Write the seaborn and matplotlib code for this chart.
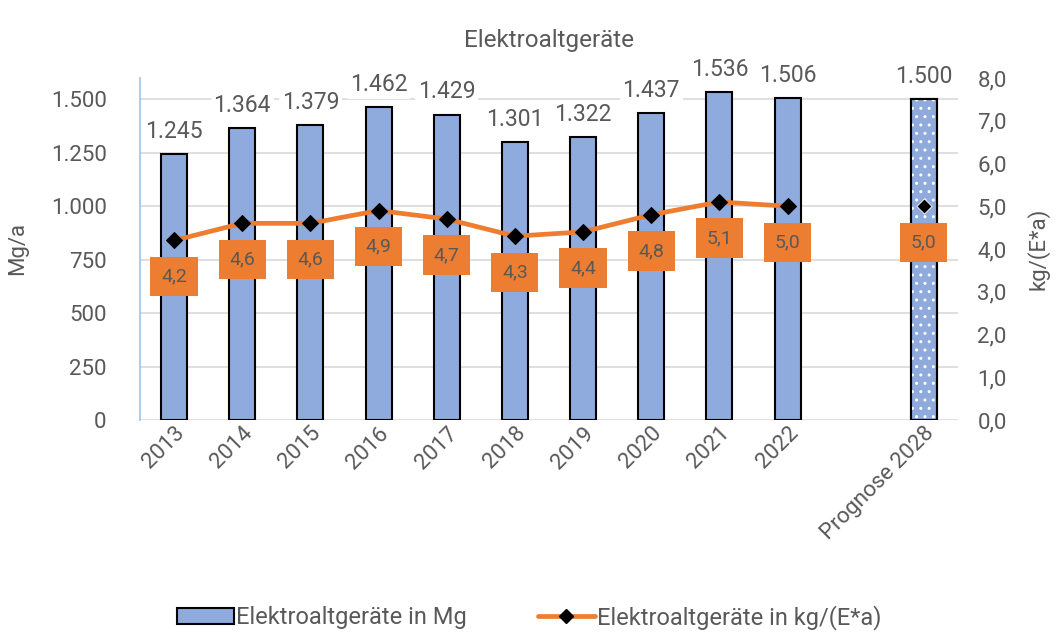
import numpy as np
import pandas as pd
import matplotlib.pyplot as plt
import seaborn as sns
from matplotlib.ticker import FuncFormatter
from matplotlib.patches import Rectangle
from matplotlib.lines import Line2D
from matplotlib.patches import Patch

# data
categories = ['2013', '2014', '2015', '2016', '2017', '2018', '2019', '2020', '2021', '2022', ' ', 'Prognose 2028']
mass_mg = [1245, 1364, 1379, 1462, 1429, 1301, 1322, 1437, 1536, 1506, np.nan, 1500]
per_capita = [4.2, 4.6, 4.6, 4.9, 4.7, 4.3, 4.4, 4.8, 5.1, 5.0, np.nan, 5.0]

sns.set_style('white')
plt.rcParams['font.family'] = ['Roboto', 'DejaVu Sans']

grey = '#595959'
bar_blue = '#8FAADC'
orange = '#ED7D31'

df = pd.DataFrame({'Jahr': categories, 'Mg': mass_mg, 'kg': per_capita})

fig = plt.figure(figsize=(10.59, 6.35), dpi=100)
ax = fig.add_axes([0.1322, 0.3386, 0.7724, 0.5386])

sns.barplot(data=df, x='Jahr', y='Mg', order=categories, color=bar_blue, width=0.38,
            edgecolor='black', linewidth=1.5, saturation=1, ax=ax)
ax.set_ylim(0, 1600)
ax.set_xlim(-0.5, len(categories) - 0.5)
ax.set_yticks(np.arange(0, 1501, 250))
ax.yaxis.set_major_formatter(FuncFormatter(lambda v, p: f'{int(v):,}'.replace(',', '.')))
ax.grid(axis='y', color='#D9D9D9', linewidth=1.2)
ax.set_axisbelow(True)
for s in ['top', 'right', 'bottom']:
    ax.spines[s].set_visible(False)
ax.spines['left'].set_color('#9DC3E6')
ax.spines['left'].set_linewidth(1.2)
ax.set_xlabel('')
ax.set_ylabel('Mg/a', fontsize=16, color=grey, labelpad=16)
ax.tick_params(axis='y', labelsize=16, colors=grey, length=0, pad=24)
ax.tick_params(axis='x', labelsize=16, colors=grey, length=0, pad=2)
plt.setp(ax.get_xticklabels(), rotation=45, ha='right', rotation_mode='anchor')

# dotted forecast bar
bars = [p for p in ax.patches if p.get_height() > 0]
last = bars[-1]
ax.add_patch(Rectangle((last.get_x(), 0), last.get_width(), last.get_height(),
                       facecolor='none', edgecolor='white', hatch='..', linewidth=0, zorder=3))
ax.add_patch(Rectangle((last.get_x(), 0), last.get_width(), last.get_height(),
                       facecolor='none', edgecolor='black', linewidth=1.5, zorder=4))

# bar value labels
for i, v in enumerate(mass_mg):
    if np.isnan(v):
        continue
    ax.annotate(f'{int(v):,}'.replace(',', '.'), (i, v), xytext=(0, 8), textcoords='offset points',
                ha='center', va='bottom', fontsize=16.5, color=grey,
                bbox=dict(facecolor='white', edgecolor='none', pad=2), zorder=5)

ax.set_title('Elektroaltgeräte', fontsize=17.5, color=grey, pad=22)

# per capita line on secondary axis
ax2 = ax.twinx()
xpos = np.arange(len(categories))
line_df = pd.DataFrame({'x': xpos[:10], 'kg': per_capita[:10]})
sns.lineplot(data=line_df, x='x', y='kg', color=orange, linewidth=3.4, marker='D',
             markersize=8, markerfacecolor='black', markeredgecolor='black', ax=ax2, zorder=6)
sns.scatterplot(x=[xpos[11]], y=[per_capita[11]], marker='D', s=60, color='black', ax=ax2, zorder=6)
ax2.set_ylim(0, 8)
ax2.set_yticks(np.arange(0, 8.1, 1))
ax2.yaxis.set_major_formatter(FuncFormatter(lambda v, p: f'{v:.1f}'.replace('.', ',')))
ax2.tick_params(axis='y', labelsize=16, colors=grey, length=0, pad=14)
ax2.set_ylabel('kg/(E*a)', fontsize=16, color=grey, labelpad=14)
ax2.set_xlabel('')
for s in ax2.spines.values():
    s.set_visible(False)
ax2.grid(False)

for i, v in enumerate(per_capita):
    if np.isnan(v):
        continue
    ax2.annotate(f'{v:.1f}'.replace('.', ','), (i, v), xytext=(0, -26), textcoords='offset points',
                 ha='center', va='center', fontsize=14, color=grey,
                 bbox=dict(facecolor=orange, edgecolor='none', boxstyle='square,pad=0.55'), zorder=7)

handles = [Patch(facecolor=bar_blue, edgecolor='black', linewidth=1.5),
           Line2D([], [], color=orange, linewidth=3.4, marker='D', markersize=7,
                  markerfacecolor='black', markeredgecolor='black')]
fig.legend(handles, ['Elektroaltgeräte in Mg', 'Elektroaltgeräte in kg/(E*a)'],
           loc='lower center', bbox_to_anchor=(0.5, -0.025), ncol=2, frameon=False,
           fontsize=17, labelcolor=grey, handlelength=2.4, handletextpad=0.1, columnspacing=3)

fig.savefig('out.png', dpi=100)
